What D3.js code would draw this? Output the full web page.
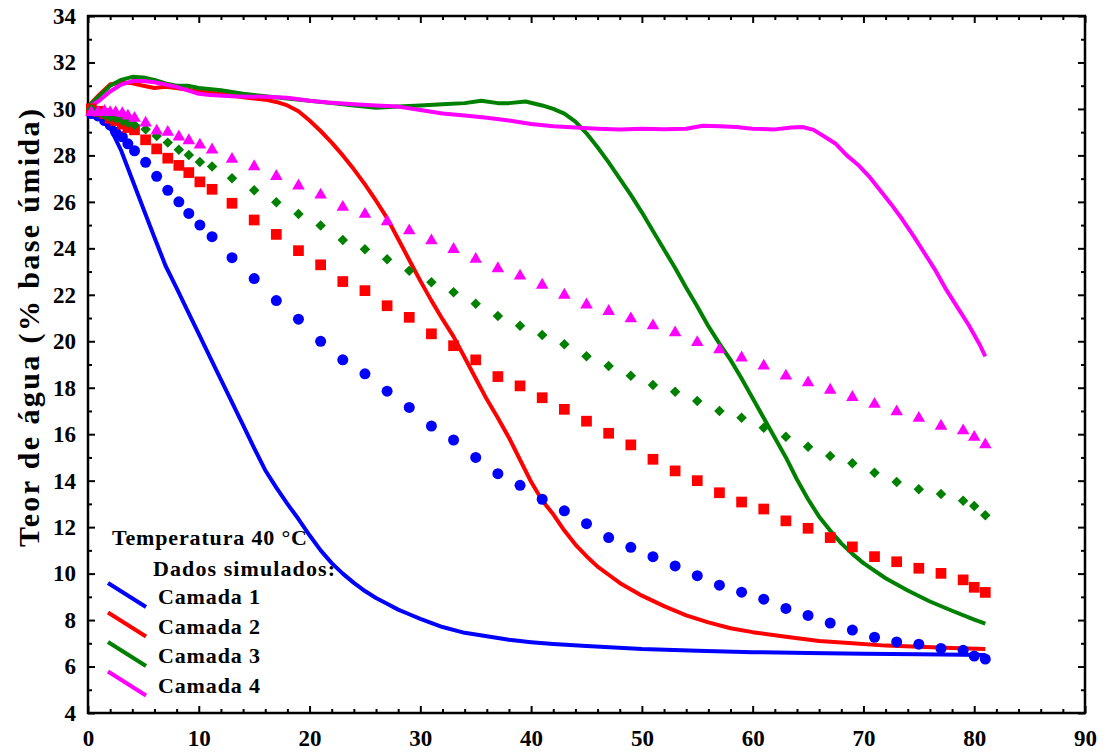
<!DOCTYPE html>
<html lang="pt">
<head>
<meta charset="UTF-8">
<title>Teor de água - Temperatura 40 °C</title>
<style>
  body { margin: 0; background: #fff; }
  svg text { font-family: "Liberation Serif", "Times New Roman", serif; font-weight: bold; fill: #000; }
</style>
</head>
<body>
<svg id="chart" width="1105" height="753"></svg>
<script src="https://d3js.org/d3.v7.min.js"></script>
<script>
// experimental time grid (shared by all four layers)
const expT = [0.3, 0.9, 1.5, 2, 2.5, 3.1, 3.6, 4.2, 5.2, 6.2, 7.2, 8.2, 9.1, 10.1, 11.2,
  13, 15, 17, 19, 21, 23, 25, 27, 29, 31, 33, 35, 37, 39, 41, 43, 45, 47, 49, 51, 53, 55,
  57, 59, 61, 63, 65, 67, 69, 71, 73, 75, 77, 79, 80, 81];

const exp1 = [29.8, 29.7, 29.5, 29.3, 29.0, 28.8, 28.5, 28.2, 27.7, 27.1, 26.5, 26.0, 25.5, 25.0, 24.5,
  23.6, 22.7, 21.75, 20.95, 20.0, 19.2, 18.6, 17.85, 17.15, 16.35, 15.75, 15.0, 14.3, 13.8, 13.2, 12.7,
  12.15, 11.55, 11.13, 10.73, 10.33, 9.91, 9.5, 9.2, 8.9, 8.5, 8.2, 7.87, 7.57, 7.26, 7.06, 6.96, 6.78,
  6.7, 6.45, 6.32];
const exp2 = [30.0, 29.9, 29.8, 29.6, 29.5, 29.35, 29.2, 29.1, 28.67, 28.28, 27.88, 27.57, 27.26, 26.86, 26.54,
  25.94, 25.22, 24.6, 23.9, 23.29, 22.57, 22.18, 21.53, 21.03, 20.32, 19.81, 19.2, 18.48, 18.08, 17.57, 17.07,
  16.56, 16.04, 15.54, 14.92, 14.42, 14.0, 13.48, 13.08, 12.78, 12.27, 11.95, 11.55, 11.15, 10.73, 10.51, 10.23,
  10.01, 9.73, 9.41, 9.19];
const exp3 = [30.0, 29.85, 29.75, 29.65, 29.6, 29.5, 29.4, 29.31, 29.13, 28.84, 28.55, 28.24, 28.02, 27.72, 27.52,
  27.02, 26.5, 25.98, 25.48, 24.98, 24.36, 23.96, 23.53, 23.04, 22.54, 22.11, 21.61, 21.09, 20.67, 20.27, 19.87,
  19.35, 18.94, 18.52, 18.12, 17.83, 17.43, 17.0, 16.71, 16.28, 15.89, 15.46, 15.06, 14.75, 14.34, 13.94, 13.63,
  13.43, 13.14, 12.91, 12.51];
const exp4 = [29.85, 29.85, 29.9, 29.85, 29.85, 29.8, 29.7, 29.6, 29.4, 29.05, 29.0, 28.8, 28.64, 28.45, 28.24,
  27.84, 27.52, 27.1, 26.69, 26.3, 25.77, 25.47, 25.15, 24.76, 24.33, 23.96, 23.53, 23.13, 22.81, 22.42, 21.99,
  21.57, 21.29, 20.97, 20.67, 20.37, 19.95, 19.64, 19.29, 18.94, 18.51, 18.22, 17.9, 17.59, 17.29, 16.97, 16.69,
  16.35, 16.15, 15.87, 15.55];

// simulated curves
const sim1T = [0, 0.5, 1, 1.5, 2, 3, 4, 5, 6, 7, 8, 9, 10, 11, 12, 13, 14, 15, 16, 17, 18, 19, 20, 21, 22, 23,
  24, 25, 26, 27, 28, 29, 30, 32, 34, 36, 38, 40, 42, 45, 50, 55, 60, 65, 70, 75, 81];
const sim1V = [30.05, 30.0, 29.85, 29.6, 29.2, 28.2, 26.95, 25.7, 24.47, 23.25, 22.29, 21.3, 20.32, 19.33, 18.35,
  17.37, 16.39, 15.4, 14.45, 13.7, 13.0, 12.35, 11.65, 11.0, 10.45, 10.0, 9.6, 9.25, 8.95, 8.7, 8.45, 8.25, 8.05,
  7.7, 7.45, 7.3, 7.15, 7.05, 6.97, 6.88, 6.75, 6.68, 6.62, 6.58, 6.55, 6.53, 6.5];

const sim2T = [0, 1, 2, 3, 4, 5, 6, 7, 8, 10, 12, 14, 16, 17, 18, 19, 20, 21, 22, 23, 24, 25, 26, 27, 28, 29, 30,
  31, 32, 33, 34, 35, 36, 37, 38, 39, 40, 41, 42, 43, 44, 45, 46, 47, 48, 50, 52, 54, 56, 58, 60, 63, 66, 69,
  72, 75, 78, 81];
const sim2V = [30.1, 30.6, 31.05, 31.15, 31.1, 31.0, 30.9, 30.95, 30.9, 30.75, 30.65, 30.5, 30.4, 30.3, 30.15,
  29.9, 29.5, 29.05, 28.55, 28.0, 27.4, 26.75, 26.05, 25.3, 24.4, 23.5, 22.6, 21.75, 20.95, 20.2, 19.3, 18.4,
  17.5, 16.7, 15.85, 14.9, 13.95, 13.15, 12.55, 11.85, 11.25, 10.75, 10.3, 9.95, 9.6, 9.05, 8.6, 8.2, 7.9, 7.65,
  7.48, 7.28, 7.1, 7.0, 6.9, 6.85, 6.8, 6.75];

const sim3T = [0, 1, 2, 3, 4, 5, 6, 7, 8, 9, 10, 12, 14, 16, 18, 20, 22, 24, 26, 28, 30, 32, 34, 35.5, 37, 38,
  39.5, 41, 42, 43, 44, 45, 46, 47, 48, 49, 50, 51, 52, 53, 54, 55, 56, 57, 58, 59, 60, 61, 62, 63, 64, 65, 66,
  67, 68, 69, 70, 72, 74, 76, 78, 80, 81];
const sim3V = [30.1, 30.55, 31.0, 31.25, 31.38, 31.35, 31.25, 31.1, 31.0, 31.0, 30.9, 30.8, 30.65, 30.55, 30.45,
  30.35, 30.25, 30.15, 30.05, 30.1, 30.15, 30.2, 30.25, 30.35, 30.25, 30.25, 30.32, 30.15, 30.0, 29.8, 29.45,
  28.95, 28.35, 27.7, 27.0, 26.3, 25.55, 24.75, 23.95, 23.15, 22.3, 21.5, 20.65, 19.9, 19.2, 18.4, 17.55, 16.7,
  15.85, 15.0, 14.05, 13.2, 12.45, 11.85, 11.3, 10.85, 10.45, 9.8, 9.27, 8.8, 8.4, 8.02, 7.85];

const sim4T = [0, 1, 2, 3, 4, 5, 6, 7, 8, 9, 10, 11, 13, 16, 18, 19, 20, 22, 24, 26, 28, 30, 32, 34, 36, 38, 40,
  42, 44, 46, 48, 50, 52, 54, 55.5, 57, 58.5, 60, 62, 63.5, 64.5, 65.5, 66.5, 67.5, 68.5, 69.5, 70.5, 71.5,
  72.5, 73.5, 74.5, 75.5, 76.5, 77.5, 78.5, 79.5, 80.5, 81];
const sim4V = [30.05, 30.35, 30.75, 31.05, 31.2, 31.2, 31.15, 31.05, 30.95, 30.8, 30.65, 30.6, 30.55, 30.52,
  30.48, 30.42, 30.35, 30.27, 30.2, 30.15, 30.1, 29.95, 29.8, 29.72, 29.62, 29.5, 29.35, 29.25, 29.2, 29.15,
  29.12, 29.15, 29.13, 29.15, 29.28, 29.25, 29.22, 29.15, 29.12, 29.2, 29.22, 29.1, 28.8, 28.5, 28.0, 27.6,
  27.1, 26.5, 25.9, 25.25, 24.55, 23.8, 23.05, 22.2, 21.45, 20.7, 19.85, 19.35];

const xTicks = [0, 10, 20, 30, 40, 50, 60, 70, 80, 90];
const yTicks = [4, 6, 8, 10, 12, 14, 16, 18, 20, 22, 24, 26, 28, 30, 32, 34];
const layerNames = ["Camada 1", "Camada 2", "Camada 3", "Camada 4"];
const colors = ["#0000ff", "#ff0000", "#008000", "#ff00ff"];

const svg = d3.select("#chart");
const plotL = 88, plotR = 1085, plotT = 16, plotB = 713;

const x = d3.scaleLinear().domain([0, 90]).range([plotL, plotR]);
const y = d3.scaleLinear().domain([4, 34]).range([plotB, plotT]);

// inward ticks on every side
const minorX = d3.range(0, 91, 2).filter(d => d % 10 !== 0);
const minorY = d3.range(5, 34, 2);

function tickAxis(axisFn, scale, pos, values, size) {
  const g = svg.append("g").attr("transform", pos);
  g.call(axisFn(scale).tickValues(values).tickSizeInner(size).tickSizeOuter(0).tickFormat(""));
  g.select(".domain").remove();
  g.selectAll(".tick line").attr("stroke", "#000").attr("stroke-width", 2);
  return g;
}

tickAxis(d3.axisTop, x, `translate(0,${plotB})`, xTicks, 7);
tickAxis(d3.axisTop, x, `translate(0,${plotB})`, minorX, 4);
tickAxis(d3.axisBottom, x, `translate(0,${plotT})`, xTicks, 7);
tickAxis(d3.axisBottom, x, `translate(0,${plotT})`, minorX, 4);
tickAxis(d3.axisRight, y, `translate(${plotL},0)`, yTicks, 7);
tickAxis(d3.axisRight, y, `translate(${plotL},0)`, minorY, 4);
tickAxis(d3.axisLeft, y, `translate(${plotR},0)`, yTicks, 7);
tickAxis(d3.axisLeft, y, `translate(${plotR},0)`, minorY, 4);

// tick labels
const xLab = svg.append("g").attr("class", "lab").attr("transform", `translate(0,${plotB})`)
  .call(d3.axisBottom(x).tickValues(xTicks).tickSize(0).tickPadding(17).tickFormat(d3.format("d")));
xLab.select(".domain").remove();
const yLab = svg.append("g").attr("class", "lab").attr("transform", `translate(${plotL},0)`)
  .call(d3.axisLeft(y).tickValues(yTicks).tickSize(0).tickPadding(12).tickFormat(d3.format("d")));
yLab.select(".domain").remove();
svg.selectAll(".lab .tick text")
  .attr("font-family", '"Liberation Serif", serif').attr("font-weight", "bold")
  .attr("font-size", 23).attr("fill", "#000");

svg.append("rect")
  .attr("x", plotL).attr("y", plotT).attr("width", plotR - plotL).attr("height", plotB - plotT)
  .attr("fill", "none").attr("stroke", "#000").attr("stroke-width", 2.5);

// axis title (the original is set loosely, so stretch the spacing a little)
svg.append("text")
  .attr("transform", "translate(39,328) rotate(-90)")
  .attr("text-anchor", "middle")
  .attr("textLength", 438)
  .attr("lengthAdjust", "spacing")
  .style("font-size", "30px")
  .text("Teor de água (% base úmida)");

// simulated lines
const line = d3.line().x(d => x(d[0])).y(d => y(d[1]));
const sims = [[sim1T, sim1V], [sim2T, sim2V], [sim3T, sim3V], [sim4T, sim4V]];
sims.forEach((s, i) => {
  svg.append("path")
    .datum(d3.zip(s[0], s[1]))
    .attr("d", line)
    .attr("fill", "none")
    .attr("stroke", colors[i])
    .attr("stroke-width", 4)
    .attr("stroke-linejoin", "round");
});

// experimental markers (diamond = square turned 45°)
const exps = [exp1, exp2, exp3, exp4];
const symbols = [d3.symbolCircle, d3.symbolSquare, d3.symbolSquare, d3.symbolTriangle];
const sizes = [95, 115, 55, 68];
const rot = [0, 0, 45, 0];
exps.forEach((vals, i) => {
  const sym = d3.symbol().type(symbols[i]).size(sizes[i]);
  svg.append("g").selectAll("path")
    .data(d3.zip(expT, vals))
    .join("path")
    .attr("transform", d => `translate(${x(d[0])},${y(d[1])}) rotate(${rot[i]})`)
    .attr("d", sym)
    .attr("fill", colors[i]);
});

// legend
function legendText(xx, yy, str, len) {
  svg.append("text").attr("x", xx).attr("y", yy)
    .attr("textLength", len).attr("lengthAdjust", "spacing")
    .style("font-size", "22px").text(str);
}
legendText(112, 545, "Temperatura 40 °C", 195);
legendText(153, 576, "Dados simulados:", 182);
layerNames.forEach((name, i) => {
  const yy = 604 + i * 29.5;
  svg.append("line")
    .attr("x1", 108).attr("y1", yy - 21).attr("x2", 146).attr("y2", yy + 3)
    .attr("stroke", colors[i]).attr("stroke-width", 4);
  legendText(158, yy, name, 102);
});
</script>
</body>
</html>
